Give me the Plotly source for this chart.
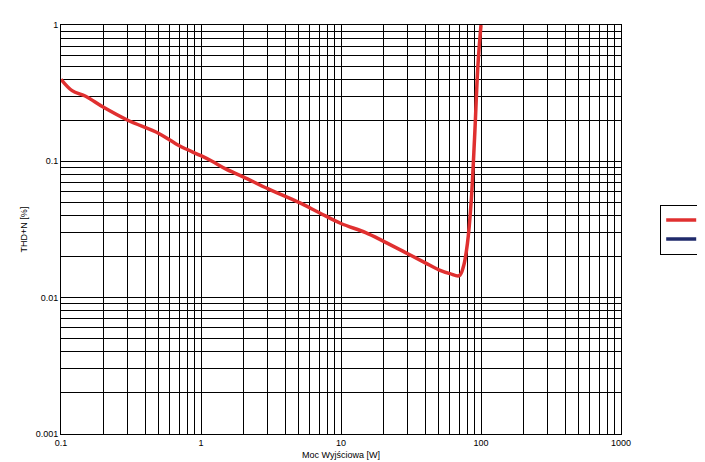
import plotly.graph_objects as go

power_w = [0.1,0.12,0.15,0.2,0.3,0.5,0.7,1,1.2,1.5,2,3,5,7,10,15,20,30,40,50,60,70,75,80,85,90,95,100]
thd_8ohm = [0.4,0.33,0.3,0.25,0.2,0.16,0.13,0.11,0.1,0.088,0.077,0.063,0.05,0.042,0.035,0.03,0.026,0.021,0.018,0.016,0.015,0.0145,0.017,0.025,0.05,0.15,0.5,1.0]
x_ticks = [0.1,1,10,100,1000]
x_labels = ["0.1","1","10","100","1000"]
y_ticks = [0.001,0.01,0.1,1]
y_labels = ["0.001","0.01","0.1","1"]

x_minor = [m * d for d in [0.1, 1, 10, 100] for m in range(2, 10)]
y_minor = [m * d for d in [0.001, 0.01, 0.1] for m in range(2, 10)]

fig = go.Figure()
fig.add_trace(go.Scatter(x=power_w, y=thd_8ohm, mode="lines", name="8Ohm",
                         line=dict(color="#e03030", width=3.5, shape="spline")))
fig.add_trace(go.Scatter(x=[None], y=[None], mode="lines", name="4Ohm",
                         line=dict(color="#1f2a6b", width=3.5)))
ax = dict(type="log", showgrid=True, gridcolor="black", gridwidth=1, showline=True,
          linecolor="black", mirror=True, ticks="", tickfont=dict(size=9, color="black"))
fig.update_layout(
    width=705, height=462, paper_bgcolor="white", plot_bgcolor="white",
    font=dict(family="Liberation Sans, Arial", size=9, color="black"),
    margin=dict(l=53, r=92, t=17, b=36, autoexpand=False),
    xaxis=dict(ax, range=[-1, 3], tickvals=x_ticks, ticktext=x_labels,
               minor=dict(tickvals=x_minor, showgrid=True, gridcolor="black", gridwidth=1, ticks=""),
               title=dict(text="Moc Wyjściowa [W]", font=dict(size=9), standoff=4)),
    yaxis=dict(ax, range=[-3, 0], tickvals=y_ticks, ticktext=y_labels,
               minor=dict(tickvals=y_minor, showgrid=True, gridcolor="black", gridwidth=1, ticks=""),
               title=dict(text="THD+N [%]", font=dict(size=9), standoff=6)),
    legend=dict(x=1.07, y=0.5, xanchor="left", yanchor="middle", bordercolor="black",
                borderwidth=1, font=dict(size=9), tracegroupgap=0),
)
fig.write_html("out.html")
